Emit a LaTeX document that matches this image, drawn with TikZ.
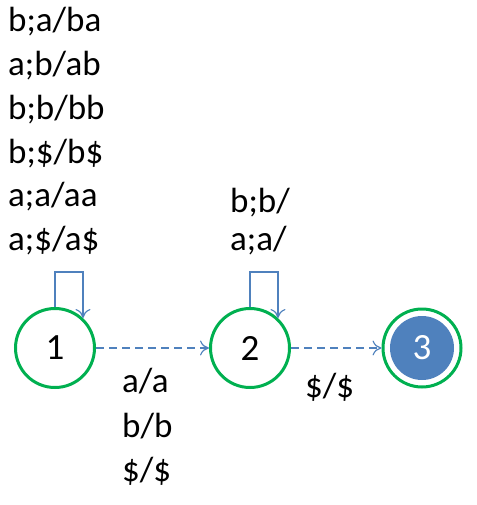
\documentclass[tikz,border=0pt]{standalone}
\usepackage{fontspec}
\setmainfont{Carlito}
\usetikzlibrary{arrows.meta}
\definecolor{stgreen}{RGB}{0,176,80}
\definecolor{stblue}{RGB}{79,129,189}
\begin{document}
\begin{tikzpicture}[x=1pt,y=-1pt,
  state/.style={circle,draw=stgreen,line width=3pt,minimum size=79pt,inner sep=0pt,
    font=\fontsize{37}{37}\selectfont},
  lbl/.style={anchor=base west,inner sep=0pt,font=\fontsize{35}{35}\selectfont},
  loopline/.style={draw=stblue,line width=1.2pt,-{To[length=9pt,width=15pt]}},
  trans/.style={draw=stblue,line width=1.2pt,dash pattern=on 8pt off 5pt,-{To[length=9pt,width=15pt]}}]
\useasboundingbox (0,0) rectangle (476,505);
\node[state] (c1) at (55,348) {1};
\node[state] (c2) at (250,348) {2};
\node[state,minimum size=78pt] (c3) at (422,348) {};
\fill[stblue] (c3.center) circle (32pt);
\node[text=white,font=\fontsize{37}{37}\selectfont] (n3) at (c3.center) {3};
% loops
\coordinate (l1a) at (55,272);
\coordinate (l1b) at (83,272);
\coordinate (l1c) at (83,318);
\draw[loopline] (c1.north) -- (l1a) -- (l1b) -- (l1c);
\coordinate (l2a) at (250,272);
\coordinate (l2b) at (278,272);
\coordinate (l2c) at (278,318);
\draw[loopline] (c2.north) -- (l2a) -- (l2b) -- (l2c);
% transitions
\draw[trans] (c1.east) -- (c2.west);
\draw[trans] (c2.east) -- (c3.west);
% labels
\node[lbl] (t1) at (8,32) {b;a/ba};
\node[lbl] (t2) at (8,76) {a;b/ab};
\node[lbl] (t3) at (8,119.5) {b;b/bb};
\node[lbl] (t4) at (8,163) {b;\$/b\$};
\node[lbl] (t5) at (8,206.5) {a;a/aa};
\node[lbl] (t6) at (8,250) {a;\$/a\$};
\node[lbl] (u1) at (230,212) {b;b/};
\node[lbl] (u2) at (230,250) {a;a/};
\node[lbl] (v1) at (122,392) {a/a};
\node[lbl] (v2) at (122,437) {b/b};
\node[lbl] (v3) at (122,481) {\$/\$};
\node[lbl] (w1) at (305,397) {\$/\$};
\end{tikzpicture}
\end{document}
